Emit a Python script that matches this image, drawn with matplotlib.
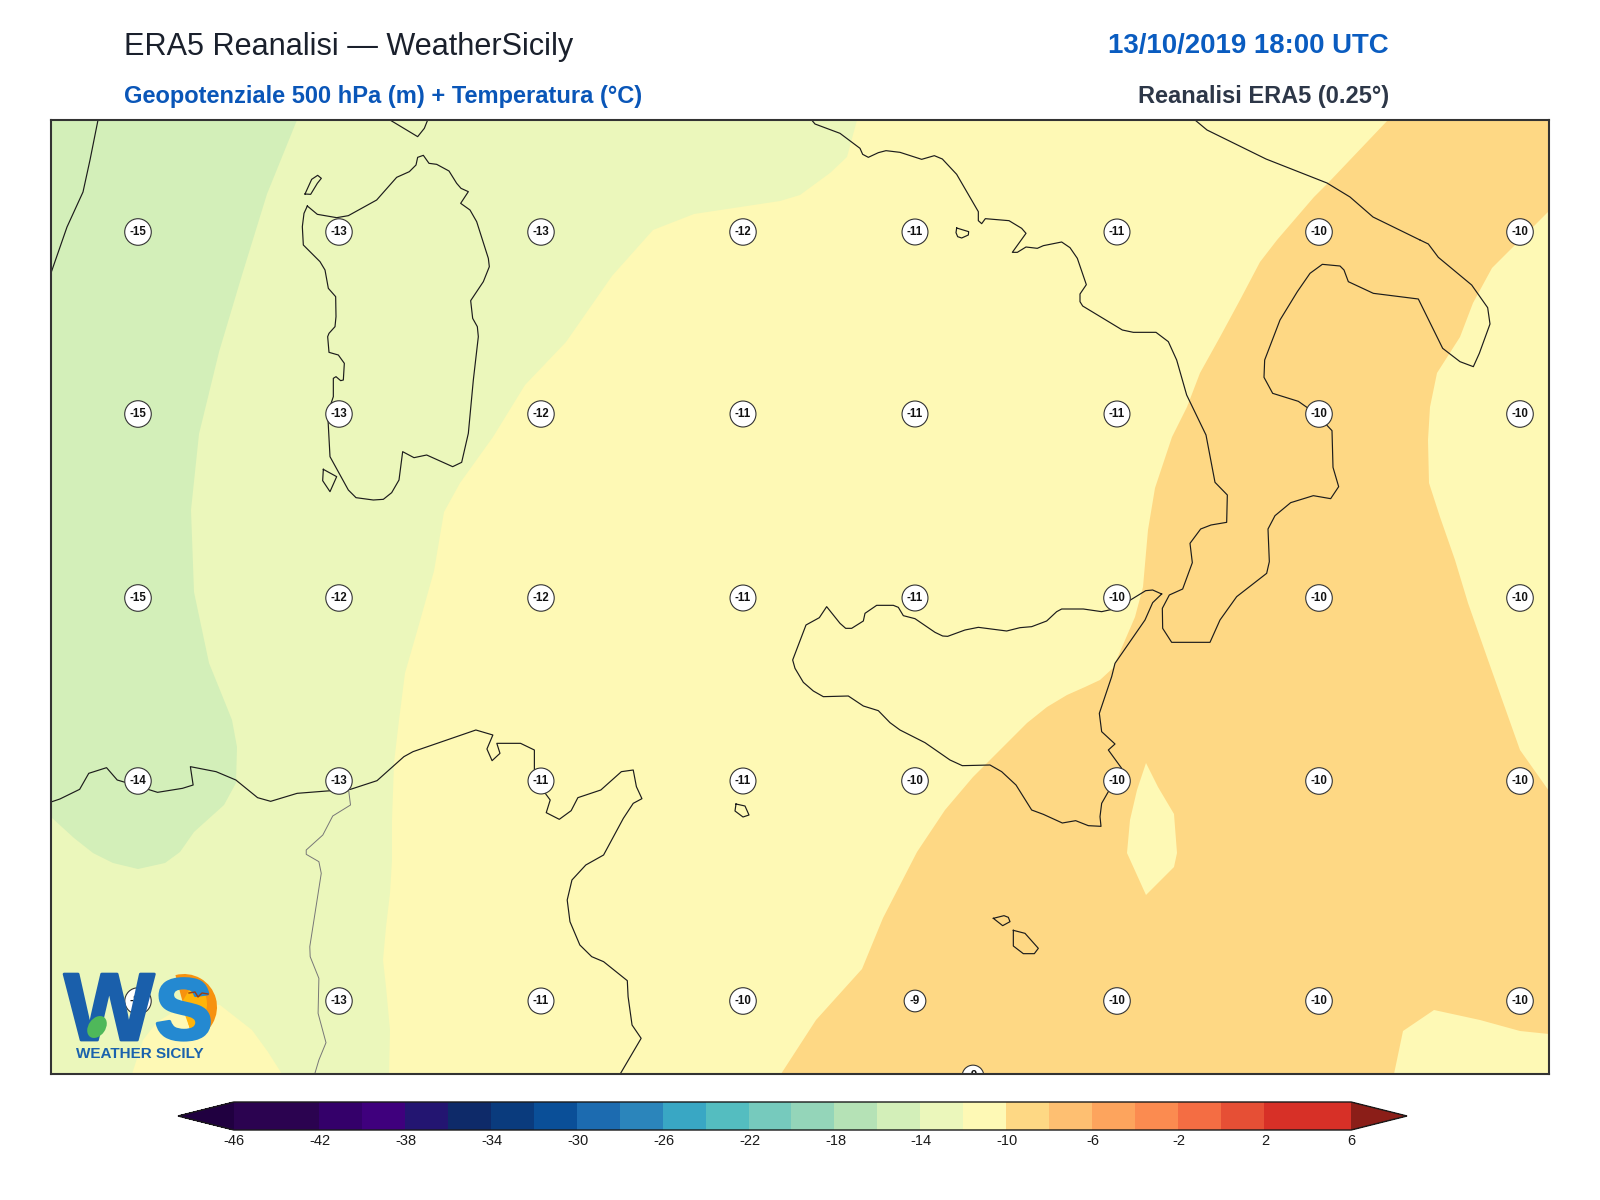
#!/usr/bin/env python3

import matplotlib
matplotlib.use('Agg')
import matplotlib.pyplot as plt
import matplotlib.patheffects as pe
from matplotlib.cm import ScalarMappable
from matplotlib.colors import BoundaryNorm, ListedColormap
from matplotlib.patches import Wedge, Ellipse

plt.rcParams['font.family'] = ['Liberation Sans', 'DejaVu Sans']
plt.rcParams['axes.unicode_minus'] = False

# colour scale
levels = list(range(-46, 8, 2))
colors = ['#2b0350', '#2b0350', '#34006a', '#3f007d', '#231571', '#0e2a69',
          '#0a3b7d', '#0a4f98', '#1c6bb0', '#2b85bb', '#39a7c4', '#54bdc0',
          '#76cabd', '#94d5b9', '#b5e2b6', '#d3efb9', '#ebf7bb', '#fef9b5',
          '#fed884', '#febf71', '#fda45d', '#fb8b50', '#f46d43', '#e64f35',
          '#d73027', '#d73027']
under_color = '#200040'
over_color = '#8b1e18'
cbar_ticks = list(range(-46, 10, 4))

label_x = [138, 339, 541, 743, 915, 1117, 1319, 1520]
label_y = [232, 414, 598, 781, 1001]
temp_rows = [
    [-15, -13, -13, -12, -11, -11, -10, -10],
    [-15, -13, -12, -11, -11, -11, -10, -10],
    [-15, -12, -12, -11, -11, -10, -10, -10],
    [-14, -13, -11, -11, -10, -10, -10, -10],
    [-13, -13, -11, -10, -9, -10, -10, -10],
]
edge_label = (973, 1076, -9)

# temperature bands
band_16_14 = [(297, 120), (267, 194), (242, 275), (219, 352), (199, 434), (191, 510),
              (194, 592), (209, 663), (226, 705), (232, 720), (237, 747), (236, 783),
              (224, 805), (194, 832), (180, 852), (165, 863), (138, 869), (113, 863),
              (93, 853), (74, 838), (51, 817), (51, 120)]
band_14_12 = [(857, 120), (847, 157), (830, 173), (800, 195), (780, 201), (694, 214),
              (653, 230), (612, 276), (566, 342), (525, 385), (493, 437), (460, 483),
              (444, 512), (434, 571), (418, 628), (405, 673), (399, 720), (394, 763),
              (392, 820), (392, 860), (390, 893), (386, 927), (383, 960), (386, 987),
              (390, 1030), (389, 1074), (282, 1074), (268, 1052), (252, 1030), (220, 1005),
              (205, 1003), (180, 1008), (157, 1022), (143, 1040), (132, 1074), (51, 1074),
              (51, 120)]
band_10_8 = [(1388, 120), (1549, 120), (1549, 211), (1513, 247), (1492, 268), (1473, 303),
             (1460, 337), (1437, 373), (1430, 407), (1428, 440), (1429, 483), (1440, 517),
             (1455, 560), (1468, 603), (1488, 660), (1520, 750), (1549, 791), (1549, 1034),
             (1520, 1031), (1480, 1020), (1434, 1010), (1403, 1031), (1394, 1074), (781, 1074),
             (816, 1020), (862, 969), (883, 918), (900, 885), (917, 852), (945, 810),
             (973, 777), (1000, 750), (1027, 723), (1047, 707), (1067, 695), (1085, 687),
             (1100, 680), (1113, 668), (1135, 617), (1143, 587), (1148, 530), (1155, 488),
             (1172, 437), (1187, 407), (1200, 373), (1220, 337), (1240, 300), (1260, 262),
             (1277, 240), (1314, 197), (1329, 182)]
patch_12_10 = [(1146, 763), (1158, 787), (1174, 814), (1177, 853), (1174, 867), (1146, 895),
               (1127, 853), (1130, 820), (1137, 790)]

sardinia = [(82, 258), (112, 283), (170, 293), (205, 287), (290, 240), (350, 172), (388, 155),
            (408, 135), (413, 112), (430, 106), (447, 130), (470, 133), (507, 153), (530, 190),
            (543, 205), (565, 215), (542, 250), (570, 270), (590, 305), (625, 415), (628, 440),
            (610, 485), (572, 542), (578, 595), (592, 620), (595, 650), (580, 780), (565, 940),
            (545, 1027), (518, 1040), (440, 1005), (402, 1013), (368, 995), (357, 1080),
            (335, 1118), (310, 1138), (280, 1140), (228, 1133), (205, 1110), (150, 1010),
            (143, 880), (160, 830), (160, 775), (168, 770), (182, 782), (190, 780), (193, 730),
            (175, 705), (147, 697), (143, 650), (147, 640), (165, 620), (168, 590), (167, 530),
            (145, 505), (135, 450), (120, 425), (70, 375), (67, 320), (72, 280), (82, 258)]
corsica = [(330, 0), (413, 50), (433, 25), (443, 0)]
asinara = [(75, 222), (92, 223), (112, 190), (124, 175), (113, 166), (95, 178), (75, 222)]
san_pietro = [(130, 1048), (128, 1082), (150, 1115), (170, 1070), (130, 1048)]

italy_north = [(95, 0), (105, 12), (180, 40), (240, 85), (248, 103), (265, 112), (295, 98),
               (318, 92), (360, 97), (425, 118), (463, 107), (487, 117), (530, 163), (595, 275),
               (595, 302), (605, 311), (616, 296), (687, 302), (725, 325), (738, 340), (697, 397),
               (712, 397), (738, 381), (772, 385), (790, 377), (845, 366), (870, 383), (892, 415),
               (919, 494), (900, 522), (900, 545), (908, 558), (1027, 630), (1060, 637),
               (1128, 637), (1165, 665), (1190, 720), (1220, 825)]
italy_south = [(140, 465), (198, 585), (225, 727), (262, 765), (260, 847), (213, 855), (182, 867),
               (150, 910), (157, 968), (128, 1047), (88, 1065), (67, 1105), (68, 1165), (95, 1207),
               (210, 1207), (240, 1140), (290, 1070), (380, 1000), (388, 965), (384, 867),
               (405, 827), (452, 788), (520, 767), (572, 776), (596, 740), (579, 682), (576, 572),
               (560, 555), (535, 525), (505, 505), (475, 484), (398, 460), (372, 412), (374, 360),
               (420, 240), (472, 155), (510, 100), (547, 73), (600, 78), (612, 90), (625, 125),
               (700, 160), (835, 177), (908, 325), (960, 365), (1000, 380), (1018, 340),
               (1050, 252), (1043, 203), (995, 135), (895, 52), (865, 12), (840, 0)]
adriatic = [(1195, 120), (1207, 130), (1266, 159), (1327, 183), (1350, 197), (1373, 217),
            (1420, 240)]
france = [(98, 120), (90, 160), (83, 192), (67, 227), (59, 250), (51, 273)]

sicily = [(1145, 72), (1118, 60), (1097, 62), (1048, 92), (1010, 115), (965, 125), (910, 117),
          (845, 117), (830, 125), (800, 153), (755, 170), (720, 173), (680, 183), (595, 172),
          (555, 180), (503, 199), (488, 198), (465, 187), (405, 146), (370, 137), (355, 112),
          (340, 106), (290, 106), (255, 130), (250, 153), (215, 175), (197, 175), (180, 160),
          (140, 110), (118, 143), (78, 165), (38, 270), (45, 295), (70, 337), (100, 363),
          (130, 380), (205, 378), (250, 408), (295, 422), (330, 458), (360, 480), (435, 518),
          (510, 570), (547, 587), (630, 585), (665, 605), (708, 645), (755, 720), (790, 733),
          (847, 759), (887, 752), (925, 767), (963, 769), (960, 740), (965, 700), (985, 665),
          (1010, 635), (1025, 595), (985, 540), (1005, 522), (965, 485), (958, 430), (995, 320),
          (1005, 280), (1095, 150), (1118, 98), (1145, 72)]
ischia = [(530, 324), (566, 335), (565, 345), (545, 354), (533, 350), (528, 338), (530, 324)]
pantelleria = [(736, 804), (745, 806), (749, 815), (743, 817), (735, 811), (736, 804)]
gozo = [(280, 595), (312, 587), (325, 592), (330, 605), (308, 617), (280, 595)]
malta = [(340, 631), (375, 640), (415, 685), (403, 701), (370, 701), (340, 678), (340, 631)]

north_africa = [(5, 245), (25, 237), (75, 208), (98, 160), (143, 143), (170, 180), (190, 187),
                (245, 207), (272, 217), (335, 205), (362, 195), (355, 140), (420, 155), (470, 180),
                (525, 233), (558, 244), (625, 220), (700, 213), (760, 208), (827, 182), (895, 110),
                (918, 95), (1077, 30), (1120, 45), (1105, 87), (1118, 122), (1138, 100), (1130, 70),
                (1190, 70), (1225, 90), (1225, 160), (1240, 200), (1265, 240), (1255, 278),
                (1288, 298), (1318, 272), (1335, 233), (1393, 210), (1445, 155), (1475, 150),
                (1483, 200), (1497, 236), (1475, 250), (1450, 295), (1400, 405), (1355, 435),
                (1320, 480), (1308, 540), (1315, 605), (1340, 675), (1370, 710), (1400, 725),
                (1460, 782), (1462, 830), (1472, 915), (1495, 955), (1443, 1060)]
border = [(755, 208), (760, 255), (715, 288), (690, 345), (648, 390), (648, 403), (680, 425),
          (686, 460), (657, 680), (658, 710), (680, 775), (678, 880), (698, 968), (680, 1020),
          (670, 1060)]


def crop(pts, x0, y0, kx=3.0, ky=3.0):
    return [x0 + p[0] / kx for p in pts], [y0 + p[1] / ky for p in pts]


def coast(ax, xy, **kw):
    style = dict(color='#1c1c1c', lw=0.85, zorder=4, solid_joinstyle='round')
    style.update(kw)
    ax.plot(xy[0], xy[1], **style)


def band(ax, pts, value):
    ax.fill([p[0] for p in pts], [p[1] for p in pts], color=colors[levels.index(value)],
            lw=0, zorder=2)


fig = plt.figure(figsize=(16, 12), dpi=100)
ax = fig.add_axes([51 / 1600, 1 - 1074 / 1200, 1498 / 1600, 954 / 1200])
ax.set_xlim(51, 1549)
ax.set_ylim(1074, 120)
ax.set_xticks([])
ax.set_yticks([])
ax.set_facecolor(colors[levels.index(-12)])
for s in ax.spines.values():
    s.set_linewidth(1.5)
    s.set_color('#333333')
    s.set_zorder(10)

band(ax, band_14_12, -14)
band(ax, band_16_14, -16)
band(ax, band_10_8, -10)
band(ax, patch_12_10, -12)

coast(ax, crop(sardinia, 280, 120))
coast(ax, crop(corsica, 280, 120))
coast(ax, crop(asinara, 280, 120))
coast(ax, crop(san_pietro, 280, 120))
xn, yn = crop(italy_north, 780, 120)
xs, ys = crop(italy_south, 1140, 240)
coast(ax, (xn + xs, yn + ys))
coast(ax, ([p[0] for p in adriatic], [p[1] for p in adriatic]))
coast(ax, ([p[0] for p in france], [p[1] for p in france]))
coast(ax, crop(sicily, 780, 570))
coast(ax, crop(ischia, 780, 120))
coast(ax, ([p[0] for p in pantelleria], [p[1] for p in pantelleria]))
coast(ax, crop(gozo, 900, 720))
coast(ax, crop(malta, 900, 720))
coast(ax, crop(north_africa, 50, 720, kx=2.529))
coast(ax, crop(border, 50, 720, kx=2.529), color='#777777', lw=0.7, zorder=3)

label_box = dict(boxstyle='circle,pad=0.42', fc='white', ec='#333333', lw=0.8)
for y, row in zip(label_y, temp_rows):
    for x, v in zip(label_x, row):
        ax.text(x, y, str(v), ha='center', va='center', fontsize=8.3, fontweight='bold',
                color='#111111', bbox=label_box, zorder=6)
edge_txt = ax.text(edge_label[0], edge_label[1], str(edge_label[2]), ha='center', va='center',
                   fontsize=8.3, fontweight='bold', color='#111111', bbox=label_box, zorder=6,
                   clip_on=True)

# logo
ax.add_patch(Wedge((184, 1007), 33, -105, 75, fc='#f7920f', ec='none', zorder=7))
ax.add_patch(Wedge((181, 1004), 26, -60, 70, fc='#ffb40a', ec='none', zorder=7))
w_txt = ax.text(64, 1040, 'W', fontsize=69, fontweight='bold', color='#1a5fab', ha='left',
                va='baseline', zorder=8)
w_txt.set_path_effects([pe.withStroke(linewidth=2, foreground='#1a5fab')])
s_txt = ax.text(155, 1039, 'S', fontsize=62, fontweight='bold', color='#2489d1', ha='left',
                va='baseline', zorder=8)
s_txt.set_path_effects([pe.withStroke(linewidth=2.5, foreground='#2489d1')])
ax.add_patch(Ellipse((97, 1027), 17, 24, angle=35, fc='#4fb85a', ec='none', zorder=9))
ax.plot([189, 195, 198, 202, 208], [993, 992, 997, 993, 994], color='#9a3d10', lw=1, zorder=9)
ax.text(140, 1054, 'WEATHER SICILY', fontsize=11, fontweight='bold', color='#1a62ad',
        ha='center', va='center', zorder=8)

# titles
fig.text(124 / 1600, 1 - 47 / 1200, 'ERA5 Reanalisi \u2014 WeatherSicily', fontsize=22.05,
         color='#1a202c', ha='left', va='center')
fig.text(124 / 1600, 1 - 97 / 1200, 'Geopotenziale 500 hPa (m) + Temperatura (\u00b0C)', fontsize=17,
         fontweight='bold', color='#0a56b8', ha='left', va='center')
fig.text(1389 / 1600, 1 - 46.5 / 1200, '13/10/2019 18:00 UTC', fontsize=19.9, fontweight='bold',
         color='#0a5cc0', ha='right', va='center')
fig.text(1389 / 1600, 1 - 97 / 1200, 'Reanalisi ERA5 (0.25\u00b0)', fontsize=17, fontweight='bold',
         color='#2d3748', ha='right', va='center')

# colorbar, the arrows are kept inside cax by matplotlib
cax = fig.add_axes([178 / 1600, 1 - 1130 / 1200, 1229 / 1600, 28 / 1200])
cmap = ListedColormap(colors).with_extremes(under=under_color, over=over_color)
norm = BoundaryNorm(levels, len(colors))
cb = fig.colorbar(ScalarMappable(norm=norm, cmap=cmap), cax=cax, orientation='horizontal',
                  extend='both', extendfrac=0.05, spacing='proportional', ticks=cbar_ticks,
                  format='%d')
cb.ax.tick_params(length=0, labelsize=10.5, pad=3, colors='#1a1a1a')
cb.ax.minorticks_off()
cb.outline.set_linewidth(1.0)
cb.outline.set_edgecolor('#1a1a1a')
cb.solids.set_edgecolor('face')

fig.savefig('out.png', dpi=100)
